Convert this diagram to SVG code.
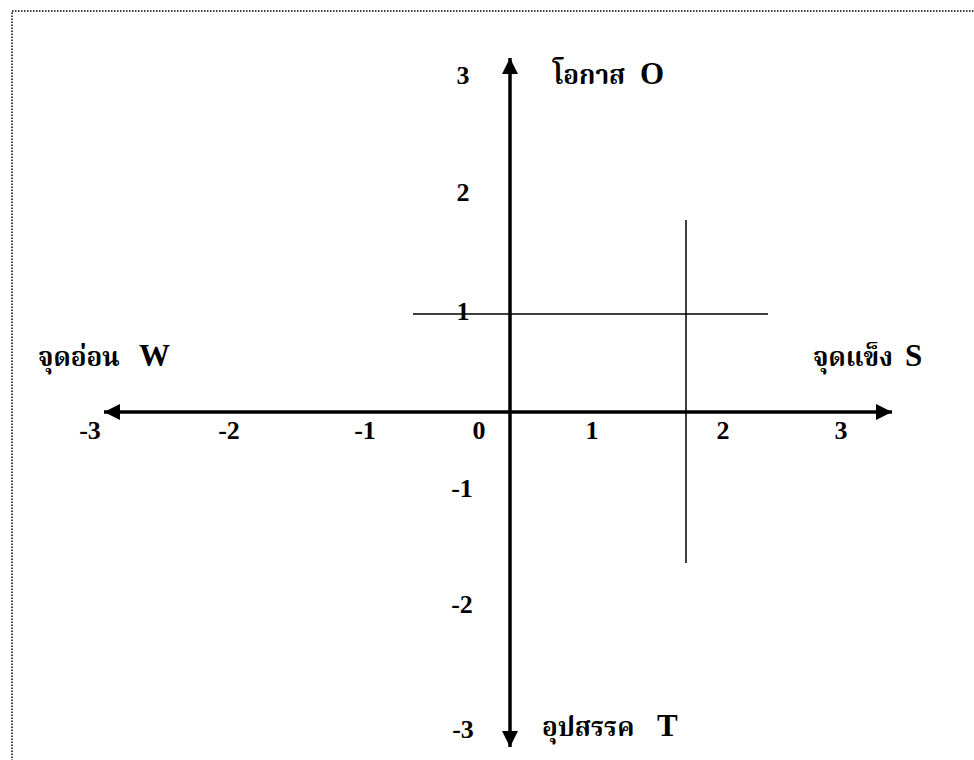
<svg xmlns="http://www.w3.org/2000/svg" width="974" height="760" viewBox="0 0 974 760">
  <style>
    .num { font-family: "Liberation Serif", "Times New Roman", serif; font-weight: bold; font-size: 26px; fill: #000; text-anchor: middle; }
    .lbl { font-family: "Liberation Serif", "Norasi", "Noto Serif Thai", "Noto Sans Thai", "Garuda", "Loma", "DejaVu Sans", serif; font-weight: bold; font-size: 26px; fill: #000; }
    .lat { font-size: 31px; }
    .axis { stroke: #000; stroke-width: 3.5; fill: none; }
    .thin { stroke: #000; stroke-width: 1.5; fill: none; }
    .border { stroke: #000; stroke-width: 1.5; stroke-dasharray: 1.5 1.5; fill: none; }
  </style>
  <defs>
    <marker id="arrow" viewBox="0 0 16 16" refX="16" refY="8" markerWidth="16" markerHeight="16" markerUnits="userSpaceOnUse" orient="auto-start-reverse">
      <path d="M0,0 L16,8 L0,16 Z" fill="#000"/>
    </marker>
  </defs>
  <rect width="974" height="760" fill="#fff"/>
  <g id="border">
    <path class="border" d="M12,770 L12,11 L980,11"/>
  </g>
  <g id="connectors">
    <line class="axis" x1="510" y1="747" x2="510" y2="58" marker-start="url(#arrow)" marker-end="url(#arrow)"/>
    <line class="axis" x1="892" y1="412" x2="104" y2="412" marker-start="url(#arrow)" marker-end="url(#arrow)"/>
    <line class="thin" x1="413" y1="314" x2="768" y2="314"/>
    <line class="thin" x1="686" y1="220" x2="686" y2="563"/>
  </g>
  <g id="y-ticks">
    <text class="num" x="463" y="84">3</text>
    <text class="num" x="463" y="201">2</text>
    <text class="num" x="463" y="320">1</text>
    <text class="num" x="462" y="497">-1</text>
    <text class="num" x="462" y="613">-2</text>
    <text class="num" x="463" y="738">-3</text>
  </g>
  <g id="x-ticks">
    <text class="num" x="90" y="439">-3</text>
    <text class="num" x="229" y="439">-2</text>
    <text class="num" x="365" y="439">-1</text>
    <text class="num" x="479" y="439">0</text>
    <text class="num" x="592" y="439">1</text>
    <text class="num" x="723" y="439">2</text>
    <text class="num" x="841" y="439">3</text>
  </g>
  <g id="node-O">
    <text class="lbl" x="553" y="84">โอกาส <tspan class="lat" x="640">O</tspan></text>
  </g>
  <g id="node-W">
    <text class="lbl" x="38" y="366">จุดอ่อน <tspan class="lat" x="139">W</tspan></text>
  </g>
  <g id="node-S">
    <text class="lbl" x="813" y="366">จุดแข็ง <tspan class="lat" x="905">S</tspan></text>
  </g>
  <g id="node-T">
    <text class="lbl" x="542" y="736">อุปสรรค <tspan class="lat" x="657">T</tspan></text>
  </g>
</svg>
